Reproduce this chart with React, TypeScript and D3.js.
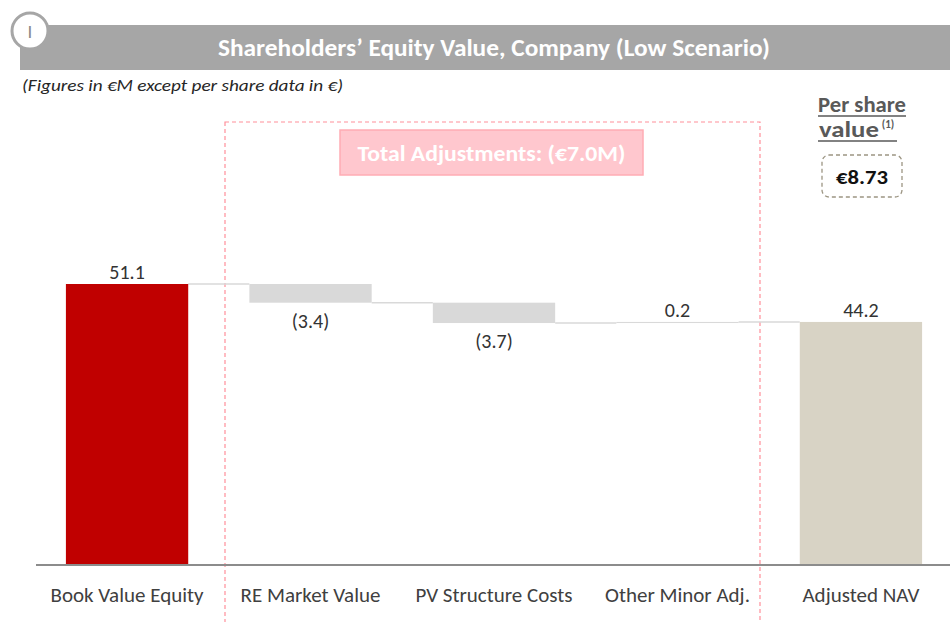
import React from "react";
import * as d3 from "d3";

const categories = ["Book Value Equity", "RE Market Value", "PV Structure Costs", "Other Minor Adj.", "Adjusted NAV"];
const values = [51.1, -3.4, -3.7, 0.2, 44.2];
const kinds = ["total", "delta", "delta", "delta", "total"];
const valueLabels = ["51.1", "(3.4)", "(3.7)", "0.2", "44.2"];
const perShareValue = "€8.73";
const totalAdjLabel = "Total Adjustments: (€7.0M)";

const W = 950, H = 622;
const FONT = "Carlito, Calibri, Lato, 'Open Sans', sans-serif";

export default function App() {
  const x = d3.scaleBand<string>().domain(categories).range([36, 952]).paddingInner(1 / 3).paddingOuter(0.163);
  const y = d3.scaleLinear().domain([0, 51.1]).range([565, 284]);

  let running = 0;
  const bars = categories.map((c, i) => {
    let y0: number, y1: number;
    if (kinds[i] === "total") {
      y0 = 0; y1 = values[i]; running = values[i];
    } else {
      y0 = running; y1 = running + values[i]; running = y1;
    }
    return { c, i, y0, y1, end: running };
  });

  const colors = ["#c00000", "#d9d9d9", "#d9d9d9", "#d9d9d9", "#d8d3c5"];
  const bw = x.bandwidth();

  return (
    <svg width={W} height={H} style={{ position: "absolute", left: 0, top: 0, fontFamily: FONT }}>
      <rect width={W} height={H} fill="#fff" />
      {/* header */}
      <rect x={20} y={25} width={930} height={45} fill="#a6a6a6" />
      <circle cx={30} cy={31} r={18} fill="#fff" stroke="#a6a6a6" strokeWidth={3} />
      <text x={30} y={38} textAnchor="middle" fontSize={19} fill="#8a8a8a" fontWeight={400}>I</text>
      <text x={494} y={56} textAnchor="middle" fontSize={24} fontWeight={700} fill="#fff" textLength={552} lengthAdjust="spacingAndGlyphs">Shareholders’ Equity Value, Company (Low Scenario)</text>
      <text x={22} y={91} fontSize={17} fontStyle="italic" fill="#262626" textLength={321} lengthAdjust="spacingAndGlyphs">(Figures in €M except per share data in €)</text>

      {/* dashed adjustments frame */}
      <rect x={225} y={122} width={535} height={510} fill="none" stroke="#ff8f9a" strokeWidth={1.2} strokeDasharray="4,3" />
      <rect x={340} y={130} width={303} height={45} fill="#ffc7ce" stroke="#ffacb4" strokeWidth={1.5} />
      <text x={491.5} y={161} textAnchor="middle" fontSize={22} fontWeight={700} fill="#fff" textLength={268} lengthAdjust="spacingAndGlyphs">{totalAdjLabel}</text>

      {/* per share */}
      <text x={862} y={112} textAnchor="middle" fontSize={22} fontWeight={700} fill="#595959" textLength={88} lengthAdjust="spacingAndGlyphs">Per share</text>
      <line x1={818} x2={906} y1={116} y2={116} stroke="#595959" strokeWidth={1.3} />
      <text x={849} y={137} textAnchor="middle" fontSize={22} fontWeight={700} fill="#595959" textLength={60} lengthAdjust="spacingAndGlyphs">value</text>
      <text x={888} y={128} textAnchor="middle" fontSize={11} fontWeight={700} fill="#595959">(1)</text>
      <line x1={818} x2={897} y1={141} y2={141} stroke="#595959" strokeWidth={1.3} />
      <rect x={822} y={155} width={80} height={42} rx={7} fill="#fff" stroke="#9c9583" strokeWidth={1.3} strokeDasharray="4,3" />
      <text x={862} y={184} textAnchor="middle" fontSize={21} fontWeight={700} fill="#111" textLength={52} lengthAdjust="spacingAndGlyphs">{perShareValue}</text>

      {/* connectors */}
      {bars.slice(0, -1).map((b, i) => {
        const next = categories[i + 1];
        return (
          <line key={"c" + i} x1={(x(b.c) as number) + bw} x2={x(next) as number} y1={y(b.end)} y2={y(b.end)} stroke="#d9d9d9" strokeWidth={1.5} />
        );
      })}

      {/* bars */}
      {bars.map((b) => {
        const top = y(Math.max(b.y0, b.y1));
        const bot = y(Math.min(b.y0, b.y1));
        return <rect key={b.c} x={x(b.c)} y={top} width={bw} height={Math.max(1, bot - top)} fill={colors[b.i]} />;
      })}

      {/* value labels */}
      {bars.map((b) => {
        const cx = (x(b.c) as number) + bw / 2;
        const neg = values[b.i] < 0;
        const ly = neg ? y(Math.min(b.y0, b.y1)) + 25 : y(Math.max(b.y0, b.y1)) - 5;
        return <text key={"v" + b.c} x={cx} y={ly} textAnchor="middle" fontSize={20} fill="#333">{valueLabels[b.i]}</text>;
      })}

      {/* baseline */}
      <line x1={36} x2={950} y1={565} y2={565} stroke="#8c8c8c" strokeWidth={2} />

      {/* category labels */}
      {categories.map((c) => (
        <text key={"l" + c} x={(x(c) as number) + bw / 2} y={602} textAnchor="middle" fontSize={21} fill="#404040">{c}</text>
      ))}
    </svg>
  );
}
